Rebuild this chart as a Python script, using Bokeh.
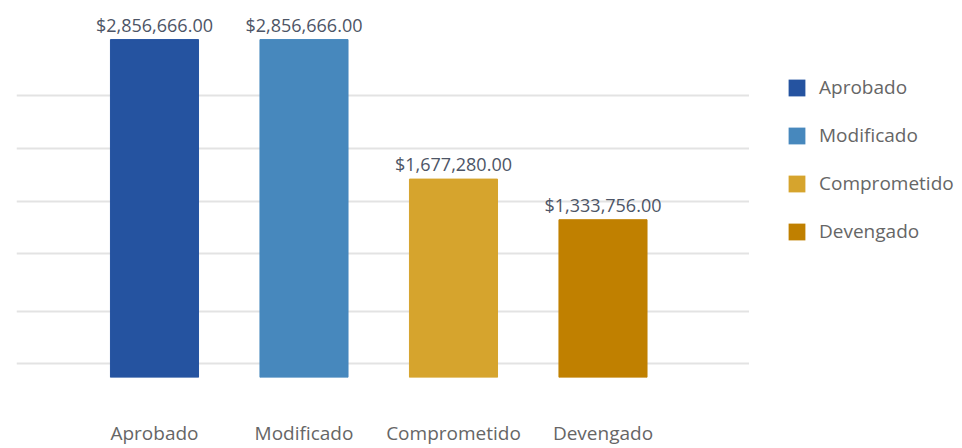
from bokeh.plotting import figure
from bokeh.layouts import row
from bokeh.models import ColumnDataSource, Range1d, FixedTicker, Legend, LegendItem
from bokeh.core.properties import value
from bokeh.embed import file_html
from bokeh.resources import INLINE

categories = ["Aprobado", "Modificado", "Comprometido", "Devengado"]
amounts = [2856666.00, 2856666.00, 1677280.00, 1333756.00]
colors = ["#2553A0", "#4788BD", "#D6A42D", "#C08000"]

idx = list(range(len(categories)))
labels = ["${:,.2f}".format(v) for v in amounts]

src = ColumnDataSource(dict(x=idx, top=amounts, cat=categories, color=colors, label=labels))

# ---- main chart ----
p = figure(width=749, height=448, output_backend="svg", toolbar_location=None,
           x_range=Range1d(-0.923, 3.98), y_range=Range1d(0, 3_187_000),
           min_border_left=16, min_border_right=0, min_border_top=0, min_border_bottom=71)

p.vbar(x="x", top="top", bottom=0, width=0.589, color="color", source=src)

p.text(x="x", y="top", text="label", source=src, text_align="center", text_baseline="alphabetic",
       y_offset=-15, text_font=value("Open Sans"), text_font_size="18px", text_color="#4D5566")

p.outline_line_color = None
p.xgrid.visible = False
p.ygrid.ticker = FixedTicker(ticks=[118000, 560000, 1046000, 1488000, 1938000, 2381000])
p.ygrid.grid_line_color = "#E3E3E3"
p.ygrid.grid_line_width = 2
p.yaxis.visible = False

ax = p.xaxis[0]
ax.ticker = FixedTicker(ticks=idx)
ax.major_label_overrides = {i: c for i, c in zip(idx, categories)}
ax.axis_line_color = None
ax.major_tick_line_color = None
ax.minor_tick_line_color = None
ax.major_label_standoff = 36
ax.major_label_text_font = "Open Sans"
ax.major_label_text_font_size = "19px"
ax.major_label_text_color = "#666666"

# ---- legend panel (its bars lie outside its own ranges, only the legend shows) ----
pl = figure(width=213, height=448, output_backend="svg", toolbar_location=None,
            x_range=Range1d(-6, -5), y_range=Range1d(-3, -2),
            x_axis_type=None, y_axis_type=None,
            min_border_left=0, min_border_right=0, min_border_top=0, min_border_bottom=0)
pl.outline_line_color = None
pl.grid.visible = False
rl = pl.vbar(x="x", top="top", bottom=0, width=0.589, fill_color="color", line_color=None, source=src)

items = [LegendItem(label=c, renderers=[rl], index=i) for i, c in enumerate(categories)]
legend = Legend(items=items, location=(37, 133), orientation="vertical",
                glyph_width=21, glyph_height=21, label_height=21, spacing=22,
                label_standoff=12, padding=0, margin=0,
                border_line_color=None, background_fill_alpha=0,
                label_text_font="Open Sans", label_text_font_size="19px",
                label_text_color="#666666")
pl.add_layout(legend, "center")

layout = row(p, pl, spacing=0)
open("out.html", "w").write(file_html(layout, INLINE))
